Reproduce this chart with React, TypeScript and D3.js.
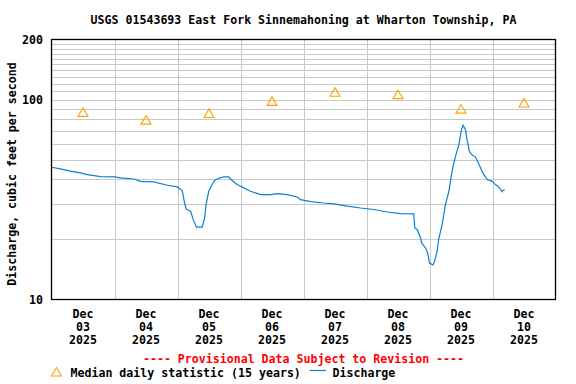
import React from "react";
import * as d3 from "d3";

const title = "USGS 01543693 East Fork Sinnemahoning at Wharton Township, PA";
const yAxisLabel = "Discharge, cubic feet per second";
const provisional = "---- Provisional Data Subject to Revision ----";
const legendMedian = "Median daily statistic (15 years)";
const legendDischarge = "Discharge";

const dayLabels = ["03", "04", "05", "06", "07", "08", "09", "10"];
const yTickLabels = [10, 100, 200];
const gridValues = [20, 30, 40, 50, 60, 70, 80, 90, 100, 110, 120, 130, 140, 150, 160, 170, 180, 190];

// Median daily statistic at noon of each day
const medianDays = ["12-03", "12-04", "12-05", "12-06", "12-07", "12-08", "12-09", "12-10"];
const medianValues = [86.4, 79, 85.3, 98, 109, 106, 89.7, 96.3];

// Discharge (cfs), times in "MM-DD HH:mm"
const dischargeTimes = [
  "12-03 00:00", "12-03 03:24", "12-03 07:12", "12-03 11:00", "12-03 13:36", "12-03 18:42",
  "12-04 00:00", "12-04 02:18", "12-04 07:24", "12-04 09:54", "12-04 15:00", "12-04 20:06", "12-04 23:54",
  "12-05 01:48", "12-05 02:42", "12-05 03:18", "12-05 05:00", "12-05 06:00", "12-05 07:12", "12-05 09:24",
  "12-05 10:18", "12-05 10:54", "12-05 11:54", "12-05 13:12", "12-05 14:06", "12-05 15:42", "12-05 17:36",
  "12-05 19:30", "12-05 20:48", "12-05 22:42",
  "12-06 01:18", "12-06 03:48", "12-06 07:36", "12-06 11:24", "12-06 14:00", "12-06 17:48", "12-06 21:36", "12-06 22:54",
  "12-07 02:42", "12-07 07:42", "12-07 11:36", "12-07 16:42", "12-07 21:42",
  "12-08 02:48", "12-08 07:54", "12-08 13:00", "12-08 18:00", "12-08 18:24", "12-08 19:18", "12-08 20:36",
  "12-08 21:00", "12-08 22:30", "12-08 23:18",
  "12-09 00:00", "12-09 01:18", "12-09 01:54", "12-09 02:54", "12-09 03:30", "12-09 04:48", "12-09 06:06",
  "12-09 07:24", "12-09 08:36", "12-09 09:54", "12-09 11:12", "12-09 12:06", "12-09 12:48", "12-09 13:42",
  "12-09 14:18", "12-09 15:12", "12-09 16:00", "12-09 17:30", "12-09 18:48", "12-09 20:18", "12-09 22:00", "12-09 23:54",
  "12-10 01:06", "12-10 02:42", "12-10 03:42", "12-10 03:54", "12-10 04:42",
];
const dischargeValues = [
  45.9, 45.0, 43.9, 43.0, 42.2, 41.2,
  41.1, 40.6, 40.1, 39.0, 38.8, 37.3, 36.6,
  35.1, 30.4, 28.4, 27.6, 25.1, 23.0, 23.0,
  25.4, 29.9, 34.8, 37.6, 39.4, 40.4, 41.1,
  41.1, 39.4, 37.6,
  36.2, 34.8, 33.5, 33.5, 33.9, 33.5, 32.6, 31.6,
  30.9, 30.4, 30.1, 29.3, 28.7,
  28.2, 27.4, 26.9, 26.8, 22.8, 22.4, 20.3,
  19.2, 18.1, 17.1,
  15.2, 14.9, 15.5, 17.4, 20.0, 23.7, 29.9,
  34.8, 43.9, 52.0, 59.6, 70.0, 74.4, 70.8,
  63.1, 55.1, 53.2, 51.6, 47.6, 43.0, 39.8, 39.0,
  37.6, 36.2, 34.6, 35.1, 35.3,
];

const parseT = (s: string) => {
  const [md, hm] = s.split(" ");
  const [mo, da] = md.split("-").map(Number);
  const [hh, mm] = (hm || "00:00").split(":").map(Number);
  return new Date(Date.UTC(2025, mo - 1, da, hh, mm));
};

const W = 576, H = 384;
const L = 51.5, R = 555.5, T = 39.5, B = 299.5;
const FONT = "'DejaVu Sans Mono', 'Liberation Mono', monospace";
const BLUE = "#0a80d2";
const ORANGE = "#ffa200";

export default function App() {
  const x = d3.scaleUtc().domain([parseT("12-03 00:00"), parseT("12-11 00:00")]).range([L, R]);
  const y = d3.scaleLog().domain([10, 200]).range([B, T]);

  const pts = dischargeTimes.map((t, i) => [parseT(t), dischargeValues[i]] as [Date, number]);
  const line = d3.line<[Date, number]>().x((d) => x(d[0])).y((d) => y(d[1]));

  const midnights = d3.utcDay.range(parseT("12-04 00:00"), parseT("12-11 00:00"));
  const noons = dayLabels.map((d) => parseT(`12-${d} 12:00`));

  const tri = (cx: number, cy: number) =>
    `M${cx - 5},${cy + 4}L${cx},${cy - 4.5}L${cx + 5},${cy + 4}Z`;

  const midX = (L + R) / 2;

  return (
    <svg width={W} height={H} style={{ position: "absolute", left: 0, top: 0, background: "#fff" }}
      fontFamily={FONT} fontWeight="bold" fontSize={11.6}>
      <rect x={0} y={0} width={W} height={H} fill="#fff" />
      <text x={midX} y={24} textAnchor="middle" fill="#000">{title}</text>

      {gridValues.map((v) => (
        <line key={"h" + v} x1={L} x2={R} y1={Math.round(y(v)) + 0.5} y2={Math.round(y(v)) + 0.5}
          stroke="#c8c8c8" strokeWidth={1} shapeRendering="crispEdges" />
      ))}
      {midnights.map((d, i) => (
        <line key={"v" + i} x1={Math.round(x(d)) + 0.5} x2={Math.round(x(d)) + 0.5} y1={T} y2={B}
          stroke="#c8c8c8" strokeWidth={1} shapeRendering="crispEdges" />
      ))}

      <path d={line(pts) || ""} fill="none" stroke={BLUE} strokeWidth={1.2} />

      {medianDays.map((d, i) => (
        <path key={"m" + i} d={tri(x(parseT(d + " 12:00")), y(medianValues[i]))} fill="none"
          stroke={ORANGE} strokeWidth={1.1} />
      ))}

      <rect x={L} y={T} width={R - L} height={B - T} fill="none" stroke="#000" strokeWidth={1.3} />

      {yTickLabels.map((v) => (
        <text key={"yt" + v} x={43} y={y(v) + 4} textAnchor="end" fill="#000">{v}</text>
      ))}

      {noons.map((d, i) => (
        <g key={"xl" + i} transform={`translate(${x(d)},0)`}>
          <text y={318} textAnchor="middle" fill="#000">Dec</text>
          <text y={331} textAnchor="middle" fill="#000">{dayLabels[i]}</text>
          <text y={344} textAnchor="middle" fill="#000">2025</text>
        </g>
      ))}

      <text transform={`translate(16,174) rotate(-90)`} textAnchor="middle" fill="#000">{yAxisLabel}</text>

      <text x={midX} y={363} textAnchor="middle" fill="#ff0000">{provisional}</text>

      <path d={tri(56.5, 372)} fill="none" stroke={ORANGE} strokeWidth={1.1} />
      <text x={70.5} y={377} fill="#000">{legendMedian}</text>
      <line x1={309.5} x2={326} y1={370.5} y2={370.5} stroke={BLUE} strokeWidth={1.2} />
      <text x={332.5} y={377} fill="#000">{legendDischarge}</text>
    </svg>
  );
}
